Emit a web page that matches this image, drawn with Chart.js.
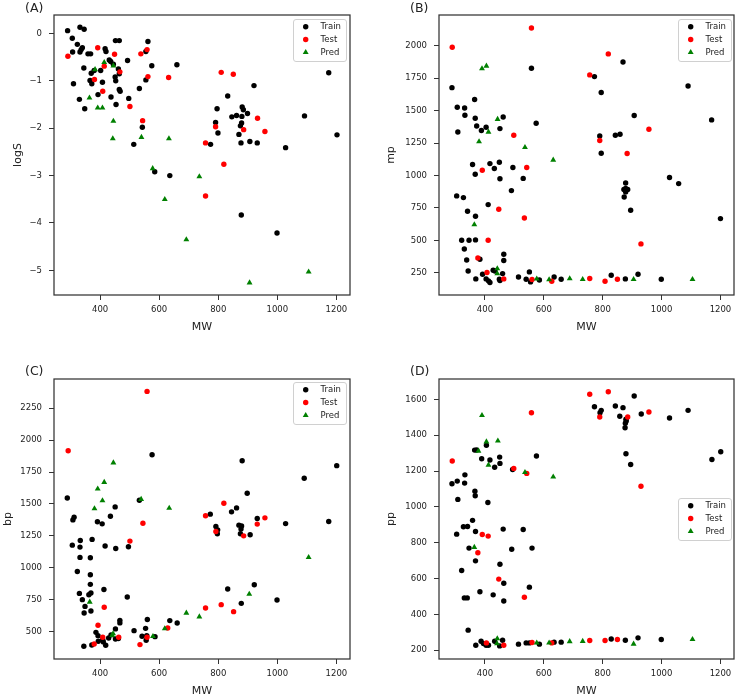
<!DOCTYPE html>
<html>
<head>
<meta charset="utf-8">
<title>Property vs MW</title>
<script src="https://cdn.jsdelivr.net/npm/chart.js@4.4.0/dist/chart.umd.min.js"></script>
<style>
  html, body { margin: 0; padding: 0; background: #fff; }
  #wrap { position: relative; width: 738px; height: 698px; }
  .panel { position: absolute; width: 369px; height: 349px; }
</style>
</head>
<body>
<div id="wrap">
  <div class="panel" style="left:0;top:0"><canvas id="chart-a"></canvas></div>
  <div class="panel" style="left:369px;top:0"><canvas id="chart-b"></canvas></div>
  <div class="panel" style="left:0;top:349px"><canvas id="chart-c"></canvas></div>
  <div class="panel" style="left:369px;top:349px"><canvas id="chart-d"></canvas></div>
</div>
<script>
// --- Axis ranges / ticks ---
const mwRange = [244, 1246];
const mwTicks = [400, 600, 800, 1000, 1200];

const logsRange = [-5.52, 0.39];
const logsTicks = [0, -1, -2, -3, -4, -5];
const mpRange = [79, 2238];
const mpTicks = [250, 500, 750, 1000, 1250, 1500, 1750, 2000];
const bpRange = [285, 2479];
const bpTicks = [500, 750, 1000, 1250, 1500, 1750, 2000, 2250];
const ppRange = [151, 1714];
const ppTicks = [200, 400, 600, 800, 1000, 1200, 1400, 1600];

const seriesNames = ['Train', 'Test', 'Pred'];

// --- (A) logS vs MW, [MW, logS] ---
const logsTrain = [
  [290,0.06],[332,0.13],[346,0.09],[306,-0.10],[323,-0.23],[307,-0.39],[340,-0.30],[332,-0.39],[336,-0.34],
  [359,-0.43],[368,-0.43],[345,-0.73],[310,-1.06],[330,-1.39],[348,-1.59],[370,-0.84],[380,-0.78],[366,-0.99],
  [372,-1.06],[393,-1.29],[402,-0.78],[408,-1.03],[417,-0.32],[420,-0.38],[431,-0.56],[436,-0.59],[445,-0.65],
  [452,-0.15],[465,-0.15],[451,-0.92],[453,-1.00],[465,-0.85],[462,-0.75],[465,-1.18],[468,-1.22],[437,-1.34],
  [454,-1.50],[493,-0.57],[497,-1.37],[533,-1.16],[555,-0.98],[555,-0.38],[562,-0.17],[575,-0.68],[660,-0.66],
  [543,-1.98],[514,-2.34],[585,-2.92],[636,-3.00],[878,-3.83],[999,-4.21],
  [921,-1.10],[1174,-0.83],[832,-1.32],[796,-1.59],[881,-1.55],[885,-1.61],[899,-1.69],[846,-1.76],[862,-1.73],
  [880,-1.75],[791,-1.88],[879,-1.89],[875,-1.95],[799,-2.10],[870,-2.13],[877,-2.31],[907,-2.28],[932,-2.31],
  [774,-2.34],[1028,-2.41],[1092,-1.74],[1202,-2.14]
];
const logsTest = [
  [291,-0.48],[392,-0.30],[449,-0.44],[538,-0.43],[559,-0.34],[414,-0.69],[381,-0.97],[467,-0.81],[562,-0.91],
  [632,-0.93],[409,-1.22],[501,-1.54],[544,-1.84],[810,-0.82],[851,-0.86],[933,-1.79],[791,-1.97],[886,-2.03],
  [958,-2.07],[757,-2.31],[819,-2.76],[757,-3.43]
];
const logsPred = [
  [383,-0.76],[414,-0.61],[445,-0.68],[364,-1.36],[392,-1.57],[408,-1.57],[445,-1.85],[443,-2.22],[540,-2.19],
  [633,-2.22],[578,-2.85],[736,-3.02],[619,-3.50],[692,-4.35],[906,-5.26],[1106,-5.03]
];

// --- (B) mp vs MW ---
const mpTrain = [
  [558,1827],[288,1678],[306,1527],[331,1521],[332,1465],[365,1586],[367,1442],[308,1336],[372,1382],[388,1347],
  [404,1372],[451,1362],[462,1452],[574,1403],[358,1085],[367,1010],[417,1092],[432,1054],[449,1103],[495,1062],
  [451,975],[530,978],[869,1876],[772,1763],[795,1640],[1090,1691],[907,1463],[1170,1429],[790,1305],[843,1311],
  [859,1318],[795,1172],[1027,985],[878,943],[878,900],[885,892],[872,892],[878,874],[873,835],[895,733],[1058,938],
  [1200,668],[304,843],[327,830],[341,725],[368,686],[411,776],[490,884],[321,501],[346,501],[368,504],[330,434],
  [338,349],[383,355],[464,393],[464,345],[343,264],[392,239],[428,270],[434,264],[460,244],[369,203],[404,203],
  [412,188],[417,175],[449,200],[451,190],[514,218],[540,200],[551,257],[555,180],[585,195],[635,218],[659,200],
  [829,231],[877,203],[920,239],[999,200]
];
const mpTest = [
  [289,1989],[558,2138],[498,1311],[391,1041],[542,1062],[819,1938],[756,1776],[957,1357],[790,1270],[883,1170],
  [447,740],[534,673],[411,501],[376,365],[407,252],[464,203],[560,198],[627,185],[756,206],[808,185],[850,200],
  [930,473]
];
const mpPred = [
  [390,1825],[405,1845],[443,1434],[412,1336],[380,1262],[536,1218],[632,1120],[364,622],[442,283],[442,244],
  [576,203],[618,198],[688,206],[732,200],[905,200],[1105,200]
];

// --- (C) bp vs MW ---
const bpTrain = [
  [576,1886],[533,1529],[289,1547],[451,1477],[312,1396],[308,1375],[435,1404],[391,1360],[407,1344],
  [881,1839],[1201,1800],[1091,1701],[898,1584],[862,1469],[845,1438],[773,1420],[932,1386],[1028,1346],
  [1174,1362],[792,1323],[870,1334],[879,1328],[798,1297],[797,1266],[877,1303],[875,1266],[908,1258],
  [922,867],[832,833],[999,747],[878,721],[661,567],[636,586],[560,594],[554,525],[515,507],[467,588],[467,568],
  [452,521],[437,474],[452,442],[462,446],[429,450],[409,437],[393,468],[386,494],[394,424],[419,393],[411,419],
  [372,395],[345,385],[558,468],[542,463],[556,432],[586,460],[492,771],[413,830],[340,750],[349,697],[346,646],
  [369,661],[362,789],[369,802],[330,799],[367,870],[367,945],[323,971],[332,1081],[367,1078],[306,1177],
  [332,1162],[333,1214],[373,1222],[417,1170],[453,1151],[496,1164]
];
const bpTest = [
  [559,2382],[292,1917],[545,1349],[819,1506],[757,1407],[958,1391],[932,1342],[792,1284],[886,1250],[810,711],
  [852,656],[757,685],[629,528],[463,455],[393,549],[409,455],[380,403],[559,455],[535,398],[414,690],[501,1209]
];
const bpPred = [
  [445,1823],[414,1670],[392,1618],[408,1526],[539,1537],[381,1464],[634,1467],[1106,1081],[905,794],[736,616],
  [692,646],[619,523],[444,484],[441,470],[579,463],[365,732]
];

// --- (D) pp vs MW ---
const ppTrain = [
  [365,1317],[372,1318],[405,1344],[389,1269],[417,1262],[450,1278],[451,1243],[433,1221],[575,1284],[288,1129],
  [306,1144],[332,1179],[331,1133],[366,1088],[367,1062],[308,1042],[410,1025],[494,1209],[358,925],[327,889],
  [341,891],[907,1619],[772,1559],[843,1563],[869,1554],[795,1539],[791,1526],[858,1506],[879,1489],[877,1467],
  [876,1442],[880,1480],[931,1519],[1027,1496],[1090,1539],[1201,1308],[1171,1265],[879,1297],[895,1237],
  [304,848],[368,863],[462,876],[530,874],[346,770],[368,699],[491,764],[560,770],[451,680],[321,645],[464,574],
  [551,552],[383,526],[428,509],[330,492],[340,492],[464,475],[343,312],[369,228],[387,250],[395,237],[404,228],
  [412,228],[433,250],[450,224],[460,256],[514,234],[540,241],[551,241],[585,234],[635,245],[659,245],[829,263],
  [877,256],[920,269],[999,260]
];
const ppTest = [
  [558,1526],[289,1256],[498,1215],[542,1187],[756,1629],[819,1643],[790,1502],[885,1502],[957,1530],[930,1115],
  [391,846],[411,837],[376,744],[447,597],[534,496],[405,241],[464,228],[560,243],[627,241],[756,254],[808,254],
  [850,260]
];
const ppPred = [
  [390,1511],[405,1364],[444,1369],[378,1312],[412,1234],[536,1193],[632,1168],[364,775],[442,265],[441,237],
  [576,241],[618,241],[688,249],[732,250],[905,235],[1105,261]
];

// --- Styling ---
const FONT = '"DejaVu Sans", sans-serif';
const seriesColors = ['#000000', '#ff0000', '#008000'];
const frameColor = '#333333';
const textColor = '#222222';

function toPoints(arr) {
  return arr.map(p => ({ x: p[0], y: p[1] }));
}

// matplotlib style: unicode minus, no thousands separator
function plainLabel(v) {
  return v < 0 ? '\u2212' + Math.abs(v) : String(v);
}

function drawMarker(ctx, style, x, y, color) {
  ctx.fillStyle = color;
  ctx.beginPath();
  if (style === 'triangle') {
    const r = 3.4;
    ctx.moveTo(x, y - r);
    ctx.lineTo(x + r * 0.866, y + r * 0.5);
    ctx.lineTo(x - r * 0.866, y + r * 0.5);
    ctx.closePath();
  } else {
    ctx.arc(x, y, 2.7, 0, Math.PI * 2);
  }
  ctx.fill();
}

// Draws the full box frame, panel letter and an in-plot legend
const panelDecor = {
  id: 'panelDecor',
  afterDraw(chart, args, opts) {
    const { ctx, chartArea: a } = chart;
    ctx.save();
    ctx.strokeStyle = frameColor;
    ctx.lineWidth = 1.25;
    ctx.strokeRect(a.left, a.top, a.right - a.left, a.bottom - a.top);

    ctx.fillStyle = textColor;
    ctx.font = '12.5px ' + FONT;
    ctx.textAlign = 'left';
    ctx.textBaseline = 'middle';
    ctx.fillText(opts.label, opts.labelX, opts.labelY);

    const lx = opts.legendX, ly = opts.legendY, lw = 53, lh = 42;
    ctx.beginPath();
    ctx.roundRect(lx + 0.5, ly + 0.5, lw, lh, 2.5);
    ctx.fillStyle = 'rgba(255,255,255,0.8)';
    ctx.fill();
    ctx.strokeStyle = '#d0d0d0';
    ctx.lineWidth = 1;
    ctx.stroke();

    ctx.font = '8.5px ' + FONT;
    seriesNames.forEach((name, i) => {
      const cy = ly + 7.7 + i * 12.8;
      drawMarker(ctx, i === 2 ? 'triangle' : 'circle', lx + 12.7, cy, seriesColors[i]);
      ctx.fillStyle = textColor;
      ctx.fillText(name, lx + 27.5, cy);
    });
    ctx.restore();
  }
};

function makePanel(id, cfg) {
  const ctx = document.getElementById(id).getContext('2d');
  const tickFont = { family: FONT, size: 8.5 };
  const titleFont = { family: FONT, size: 11 };
  return new Chart(ctx, {
    type: 'scatter',
    data: {
      datasets: [
        { label: seriesNames[0], data: toPoints(cfg.train), backgroundColor: seriesColors[0], borderWidth: 0, pointRadius: 2.7, order: 3 },
        { label: seriesNames[1], data: toPoints(cfg.test), backgroundColor: seriesColors[1], borderWidth: 0, pointRadius: 2.7, order: 2 },
        { label: seriesNames[2], data: toPoints(cfg.pred), backgroundColor: seriesColors[2], borderWidth: 0, pointRadius: 3.4, pointStyle: 'triangle', order: 1 }
      ]
    },
    options: {
      responsive: true,
      maintainAspectRatio: false,
      animation: false,
      events: [],
      layout: { padding: { left: 0, right: cfg.padRight, top: cfg.padTop, bottom: 0 } },
      plugins: {
        legend: { display: false },
        tooltip: { enabled: false },
        panelDecor: cfg.decor
      },
      scales: {
        x: {
          type: 'linear',
          min: mwRange[0],
          max: mwRange[1],
          afterBuildTicks: s => { s.ticks = mwTicks.map(v => ({ value: v })); },
          afterFit: s => { s.height = cfg.xAxisHeight; },
          grid: { drawOnChartArea: false, drawTicks: true, tickLength: 5, tickColor: frameColor },
          border: { display: false },
          ticks: { font: tickFont, color: textColor, padding: 4.5, maxRotation: 0, autoSkip: false, callback: v => plainLabel(v) },
          title: { display: true, text: 'MW', font: titleFont, color: textColor, padding: { top: 0, bottom: cfg.xTitlePad } }
        },
        y: {
          type: 'linear',
          min: cfg.yRange[0],
          max: cfg.yRange[1],
          afterBuildTicks: s => { s.ticks = cfg.yTicks.map(v => ({ value: v })); },
          afterFit: s => { s.width = cfg.yAxisWidth; },
          grid: { drawOnChartArea: false, drawTicks: true, tickLength: 5, tickColor: frameColor },
          border: { display: false },
          ticks: { font: tickFont, color: textColor, padding: 7, autoSkip: false, callback: v => plainLabel(v) },
          title: { display: true, text: cfg.yLabel, font: titleFont, color: textColor, padding: { top: cfg.yTitlePad, bottom: 0 } }
        }
      }
    },
    plugins: [panelDecor]
  });
}

makePanel('chart-a', {
  train: logsTrain, test: logsTest, pred: logsPred,
  yLabel: 'logS', yRange: logsRange, yTicks: logsTicks,
  padRight: 19, padTop: 15, yAxisWidth: 54, xAxisHeight: 54, xTitlePad: 15.7, yTitlePad: 11.4,
  decor: { label: '(A)', labelX: 25, labelY: 8.5, legendX: 293, legendY: 19 }
});
makePanel('chart-b', {
  train: mpTrain, test: mpTest, pred: mpPred,
  yLabel: 'mp', yRange: mpRange, yTicks: mpTicks,
  padRight: 3, padTop: 15, yAxisWidth: 70, xAxisHeight: 54, xTitlePad: 15.7, yTitlePad: 15.4,
  decor: { label: '(B)', labelX: 41, labelY: 8.5, legendX: 309, legendY: 19 }
});
makePanel('chart-c', {
  train: bpTrain, test: bpTest, pred: bpPred,
  yLabel: 'bp', yRange: bpRange, yTicks: bpTicks,
  padRight: 19, padTop: 30, yAxisWidth: 54, xAxisHeight: 39, xTitlePad: 0, yTitlePad: 1.4,
  decor: { label: '(C)', labelX: 25, labelY: 22.5, legendX: 293, legendY: 33 }
});
makePanel('chart-d', {
  train: ppTrain, test: ppTest, pred: ppPred,
  yLabel: 'pp', yRange: ppRange, yTicks: ppTicks,
  padRight: 3, padTop: 30, yAxisWidth: 70, xAxisHeight: 39, xTitlePad: 0, yTitlePad: 15.4,
  decor: { label: '(D)', labelX: 41, labelY: 22.5, legendX: 309, legendY: 149 }
});
</script>
</body>
</html>
